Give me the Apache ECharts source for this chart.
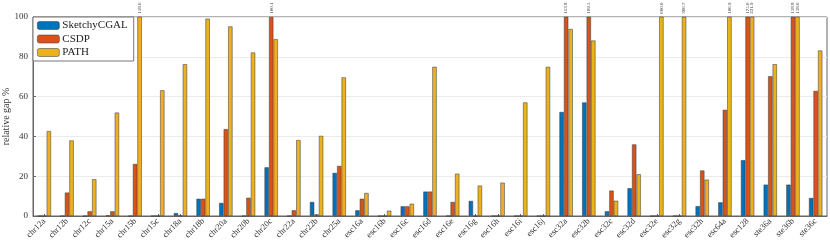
<!DOCTYPE html>
<html><head><meta charset="utf-8">
<script src="https://cdn.jsdelivr.net/npm/echarts@6/dist/echarts.min.js"></script>
<style>html,body{margin:0;padding:0;background:#fff}#c{width:830px;height:245px}</style>
</head><body><div id="c"></div>
<script>
const categories = ['chr12a','chr12b','chr12c','chr15a','chr15b','chr15c','chr18a','chr18b','chr20a','chr20b','chr20c','chr22a','chr22b','chr25a','esc16a','esc16b','esc16c','esc16d','esc16e','esc16g','esc16h','esc16i','esc16j','esc32a','esc32b','esc32c','esc32d','esc32e','esc32g','esc32h','esc64a','esc128','ste36a','ste36b','ste36c'];
const sketchyCGAL = [0,0,0,0.3,0,0,1.5,8.7,6.6,0,24.5,0,7.1,21.7,2.9,0,4.9,12.3,0,7.6,0,0,0,52.3,57.1,2.4,14.0,0,0,5.0,6.9,28.1,15.8,15.8,9.1];
const csdp = [0,11.8,2.4,2.4,26.2,0,0.2,8.7,43.7,9.2,100.1,2.9,0.8,25.2,8.7,0,4.9,12.3,7.1,0,0,0,0,113.8,109.5,12.8,36.0,0,0,22.9,53.4,175.0,70.3,158.8,62.9];
const pathVals = [42.7,38.0,18.5,52.0,158.6,63.2,76.3,99.2,95.3,82.2,88.9,38.2,40.3,69.7,11.6,2.7,6.2,75.0,21.3,15.3,16.8,57.1,75.0,94.0,88.2,7.7,21.0,600.0,366.7,18.3,106.9,221.9,76.3,158.6,83.2];
const yTicks = [0,20,40,60,80,100];
const seriesNames = ['SketchyCGAL','CSDP','PATH'];
const colors = ['#0072BD','#D95319','#EDB120'];
const FONT = 'Liberation Serif';
const yMax = yTicks[yTicks.length-1];

function mk(name, vals, color){
  return {
    name, type:'bar', clip:true,
    barWidth:4.5, barGap:'0%',
    itemStyle:{color, borderColor:'rgba(60,60,60,0.75)', borderWidth:0.7},
    label:{show:false},
    data: vals.map(v => v > yMax ? {value:v, label:{show:true, position:'top', distance:3, rotate:90, align:'left', verticalAlign:'middle', fontSize:5, color:'#333', fontFamily:FONT, formatter: p => p.value.toFixed(1)}} : v)
  };
}
const chart = echarts.init(document.getElementById('c'), null, {renderer:'canvas'});
chart.setOption({
  animation:false,
  textStyle:{fontFamily:FONT},
  grid:{left:33, right:3, top:17, bottom:29, show:true, borderColor:'#666', borderWidth:1, backgroundColor:'transparent', containLabel:false, outerBoundsMode:'none'},
  legend:{
    orient:'vertical', left:33, top:17, data:seriesNames,
    itemWidth:22, itemHeight:8, itemGap:2.5, padding:[3,6,3,4],
    backgroundColor:'#fff', borderColor:'#777', borderWidth:1,
    textStyle:{fontFamily:FONT, fontSize:11, color:'#222', padding:[0,0,0,-2]},
    itemStyle:{borderColor:'rgba(60,60,60,0.75)', borderWidth:0.7}
  },
  xAxis:{
    type:'category', data:categories,
    axisLine:{show:true, lineStyle:{color:'#666', width:1}},
    axisTick:{show:true, inside:true, length:2, alignWithLabel:true, lineStyle:{color:'#666'}},
    axisLabel:{rotate:45, fontSize:8.5, color:'#333', fontFamily:FONT, margin:4, interval:0}
  },
  yAxis:{
    type:'value', min:0, max:yMax, interval:20,
    name:'relative gap %', nameLocation:'middle', nameGap:22, nameMoveOverlap:false,
    nameTextStyle:{fontFamily:FONT, fontSize:10, color:'#333'},
    axisLine:{show:true, lineStyle:{color:'#666', width:1}},
    axisTick:{show:true, inside:true, length:3, lineStyle:{color:'#666'}},
    axisLabel:{fontSize:9, color:'#333', fontFamily:FONT, margin:5},
    splitLine:{show:true, lineStyle:{color:'#ebebeb', width:1}}
  },
  series:[mk(seriesNames[0], sketchyCGAL, colors[0]), mk(seriesNames[1], csdp, colors[1]), mk(seriesNames[2], pathVals, colors[2])]
});
</script></body></html>
